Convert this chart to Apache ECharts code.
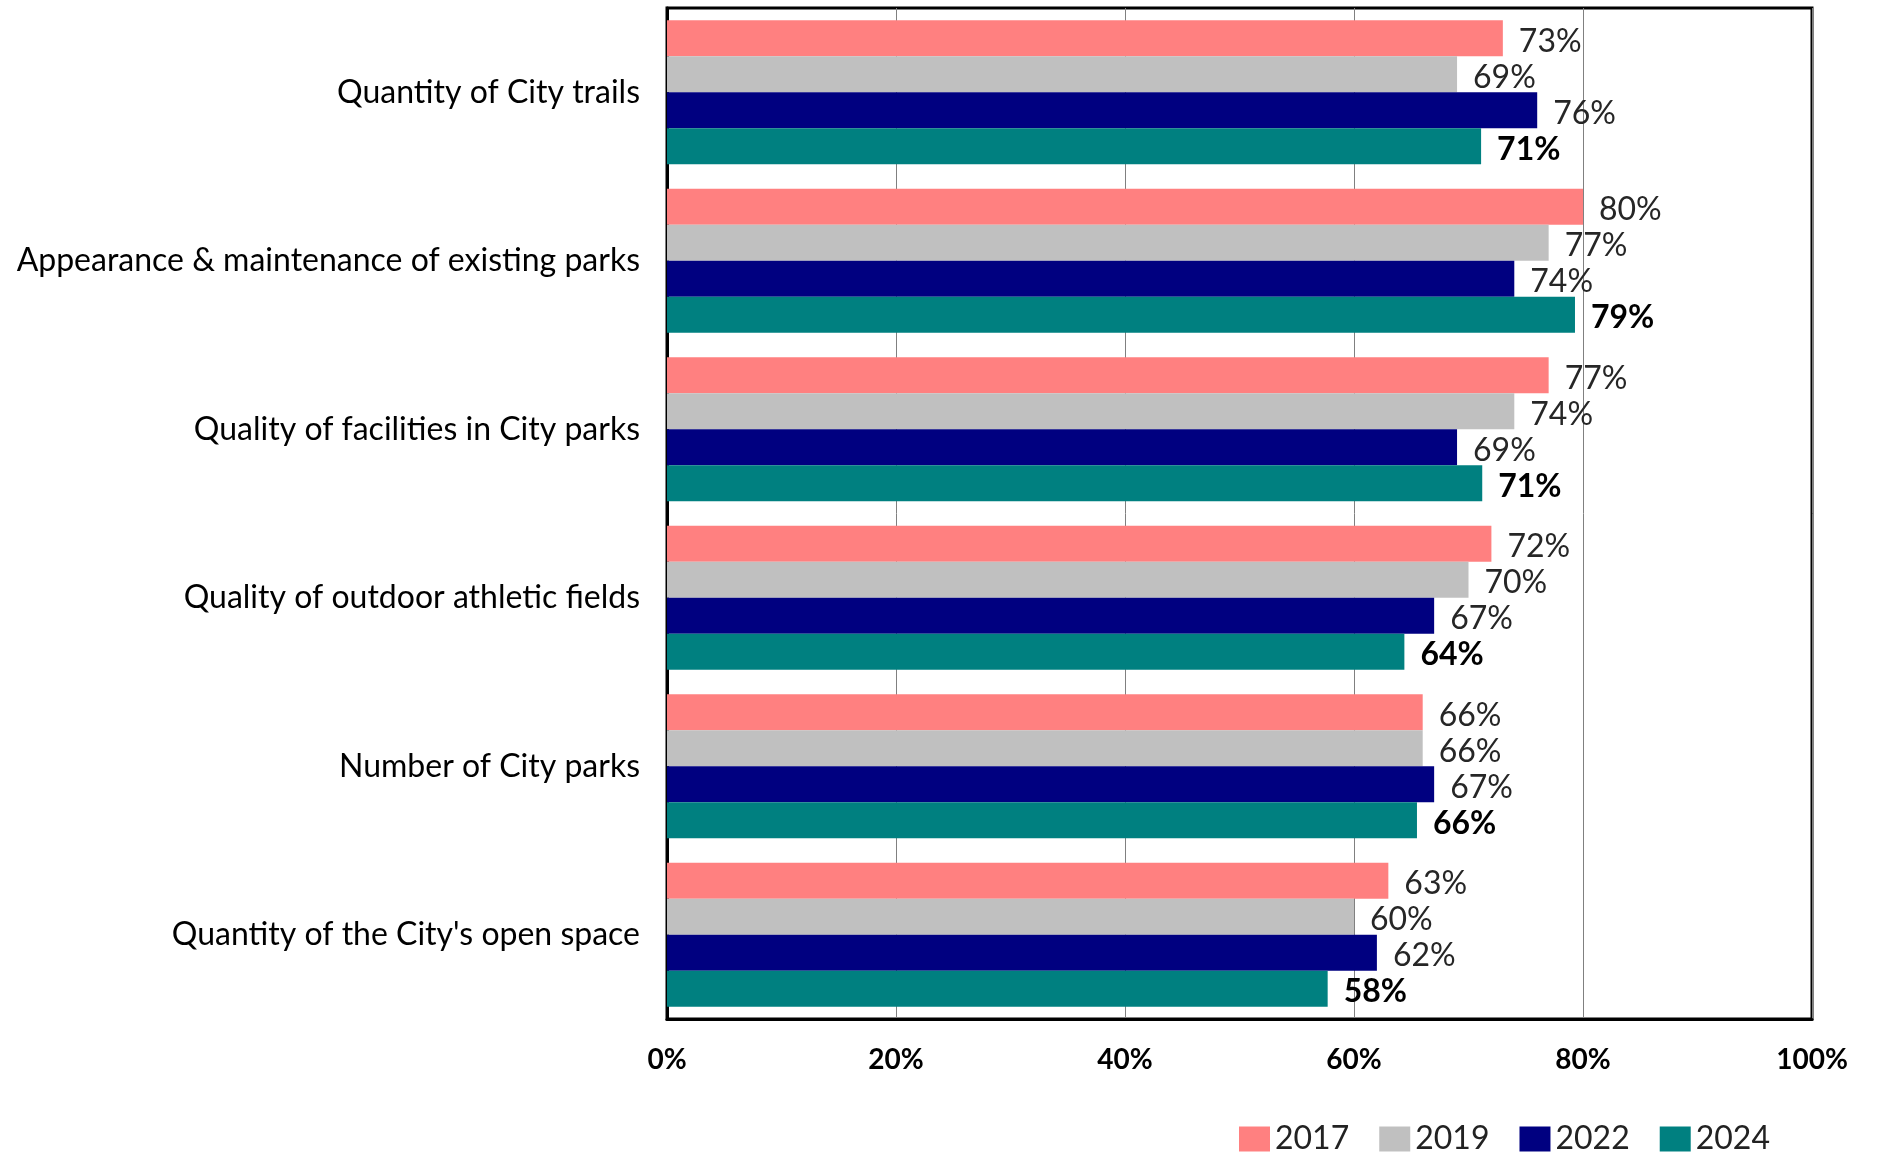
<!DOCTYPE html>
<html>
<head>
<meta charset="utf-8">
<script src="https://cdn.jsdelivr.net/npm/echarts@6/dist/echarts.min.js"></script>
<style>html,body{margin:0;padding:0;background:#fff}#c{width:1877px;height:1154px}</style>
</head>
<body>
<div id="c"></div>
<script>
const categories = [
  "Quantity of City trails",
  "Appearance & maintenance of existing parks",
  "Quality of facilities in City parks",
  "Quality of outdoor athletic fields",
  "Number of City parks",
  "Quantity of the City's open space"
];
const years = ["2017", "2019", "2022", "2024"];
const values2017 = [73, 80, 77, 72, 66, 63];
const values2019 = [69, 77, 74, 70, 66, 60];
const values2022 = [76, 74, 69, 67, 67, 62];
const values2024 = [71.1, 79.3, 71.2, 64.4, 65.5, 57.7];
const xTicks = [0, 20, 40, 60, 80, 100];
const colors = ["#FF8080", "#C0C0C0", "#000080", "#008080"];

const FONT = "Lato";
const seriesData = [values2017, values2019, values2022, values2024];

const chart = echarts.init(document.getElementById('c'), null, {renderer: 'canvas'});
chart.setOption({
  animation: false,
  backgroundColor: '#fff',
  textStyle: {fontFamily: FONT},
  grid: {left: 667, right: 65, top: 8, bottom: 135, show: true, borderColor: '#000', borderWidth: 3, containLabel: false},
  legend: {
    data: years,
    left: 1239, top: 1123,
    itemWidth: 31, itemHeight: 25, itemGap: 30, padding: 0,
    icon: 'rect',
    textStyle: {fontSize: 32, color: '#222', fontFamily: FONT}
  },
  xAxis: {
    type: 'value', min: xTicks[0], max: xTicks[xTicks.length - 1], interval: 20,
    axisLine: {show: true, lineStyle: {color: '#000', width: 3}},
    axisTick: {show: false},
    splitLine: {show: true, lineStyle: {color: '#808080', width: 1}},
    axisLabel: {formatter: '{value}%', fontSize: 28, fontWeight: 'bold', color: '#000', margin: 27, fontFamily: FONT}
  },
  yAxis: {
    type: 'category', data: categories, inverse: true,
    axisLine: {show: true, lineStyle: {color: '#000', width: 3}},
    axisTick: {show: false},
    axisLabel: {fontSize: 32, color: '#000', margin: 27, fontFamily: FONT}
  },
  series: years.map((y, i) => ({
    name: y, type: 'bar', data: seriesData[i],
    barGap: '0%', barCategoryGap: '14.5%',
    itemStyle: {color: colors[i]},
    label: {
      show: true, position: 'right', distance: 16, offset: [0, 3],
      formatter: p => Math.round(p.value) + '%',
      fontSize: 32, fontFamily: FONT,
      color: i === 3 ? '#000' : '#262626',
      fontWeight: i === 3 ? 'bold' : 'normal'
    }
  }))
});
</script>
</body>
</html>
